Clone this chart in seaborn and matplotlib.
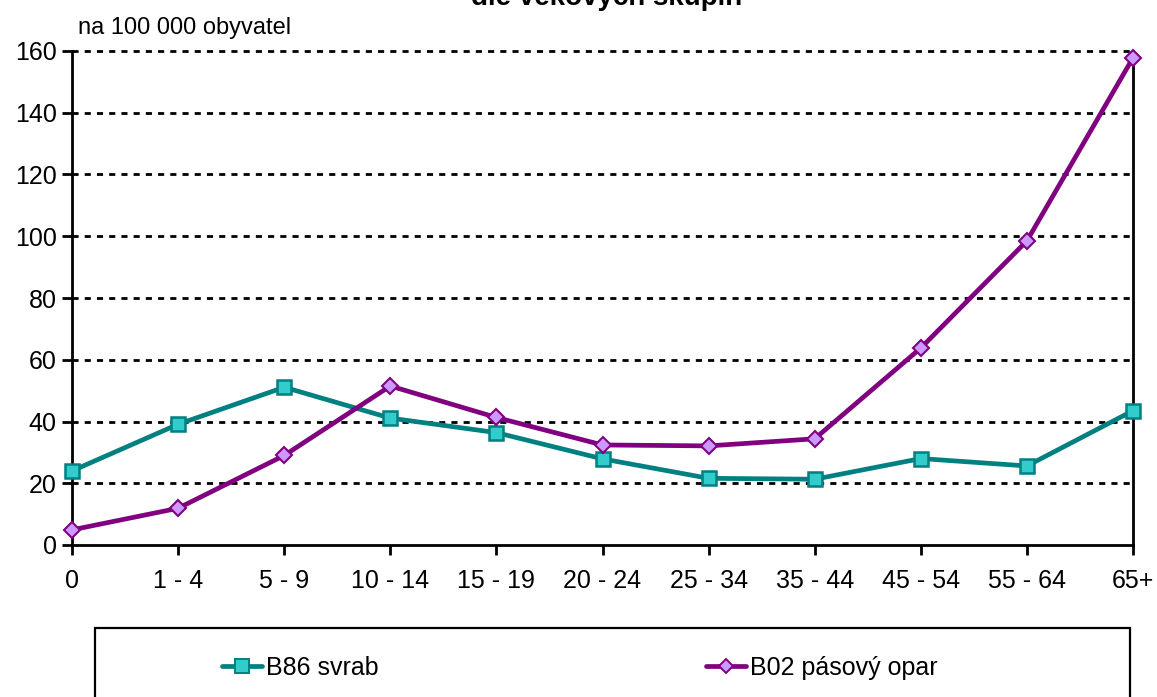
import matplotlib
matplotlib.use("Agg")
import matplotlib.pyplot as plt
from matplotlib.patches import Rectangle
from matplotlib.lines import Line2D
import seaborn as sns
import pandas as pd

categories = ["0", "1 - 4", "5 - 9", "10 - 14", "15 - 19", "20 - 24", "25 - 34",
              "35 - 44", "45 - 54", "55 - 64", "65+"]
svrab = [24.0, 39.1, 51.1, 41.1, 36.4, 27.9, 21.6, 21.3, 28.0, 25.6, 43.5]
opar = [4.9, 11.9, 29.0, 51.5, 41.3, 32.4, 32.1, 34.4, 63.8, 98.5, 157.8]
yticks = [0, 20, 40, 60, 80, 100, 120, 140, 160]
name_svrab = "B86 svrab"
name_opar = "B02 pásový opar"

sns.set_theme(style="white")
FONT = ["Liberation Sans Narrow", "Liberation Sans", "DejaVu Sans"]
plt.rcParams["font.family"] = FONT
plt.rcParams["text.color"] = "black"

W, H = 1157, 697
fig = plt.figure(figsize=(W / 100, H / 100), dpi=100)
fig.patch.set_facecolor("white")
ax = fig.add_axes([72 / W, 1 - 545 / H, (1133 - 72) / W, (545 - 51) / H])
ax.set_facecolor("white")

df = pd.DataFrame({"x": list(range(len(categories))) * 2,
                   "y": svrab + opar,
                   "s": [name_svrab] * len(svrab) + [name_opar] * len(opar)})

teal, teal_face = "#008080", "#33CCCC"
purp, purp_face = "#800080", "#CC99FF"

sns.lineplot(data=df[df.s == name_svrab], x="x", y="y", ax=ax, color=teal, lw=3.4,
             marker="s", markersize=10.5, markerfacecolor=teal_face,
             markeredgecolor=teal, markeredgewidth=1.8, clip_on=False, zorder=4,
             legend=False)
sns.lineplot(data=df[df.s == name_opar], x="x", y="y", ax=ax, color=purp, lw=3.4,
             marker="D", markersize=8.5, markerfacecolor=purp_face,
             markeredgecolor=purp, markeredgewidth=1.5, clip_on=False, zorder=5,
             legend=False)

ax.set_xlim(0, len(categories) - 1)
ax.set_ylim(0, 160)
ax.set_xticks(range(len(categories)))
ax.set_xticklabels(categories)
ax.set_yticks(yticks)
ax.set_yticklabels([str(v) for v in yticks])
ax.set_xlabel("")
ax.set_ylabel("")
for v in yticks[1:]:
    ax.axhline(v, color="black", lw=2.0, linestyle=(0, (2.2, 2.2)), zorder=1,
               clip_on=False)

for side in ["left", "right", "bottom"]:
    ax.spines[side].set_visible(True)
    ax.spines[side].set_color("black")
    ax.spines[side].set_linewidth(2)
ax.spines["top"].set_visible(False)

ax.tick_params(axis="both", which="major", direction="out", length=7, width=2,
               color="black", labelsize=18, labelcolor="black")
ax.tick_params(axis="x", pad=10, bottom=True)
ax.tick_params(axis="y", pad=4, left=True)

fig.text(78 / W, 1 - 28 / H, "na 100 000 obyvatel", fontsize=17, ha="left", va="center",
         color="black")
fig.text(607 / W, 1 - 5 / H, "dle věkových skupin", fontsize=20, fontweight="bold",
         ha="center", va="baseline", family=["Liberation Sans", "DejaVu Sans"])

fig.add_artist(Rectangle((95 / W, -0.02), (1130 - 95) / W, (697 - 628) / H + 0.02,
                         transform=fig.transFigure, fill=False, lw=1.6,
                         edgecolor="black"))

h1 = Line2D([], [], color=teal, lw=3.4, marker="s", markersize=9.5,
            markerfacecolor=teal_face, markeredgecolor=teal, markeredgewidth=1.4)
h2 = Line2D([], [], color=purp, lw=3.4, marker="D", markersize=7.5,
            markerfacecolor=purp_face, markeredgecolor=purp, markeredgewidth=1.4)
for h, lab, x0 in [(h1, name_svrab, 222), (h2, name_opar, 706)]:
    fig.legend(handles=[h], labels=[lab], loc="center left",
               bbox_to_anchor=(x0 / W, 1 - 668 / H), frameon=False, borderpad=0,
               borderaxespad=0, handlelength=1.6, handletextpad=0.15, fontsize=18,
               labelcolor="black")

fig.savefig("out.png", dpi=100, facecolor="white")
